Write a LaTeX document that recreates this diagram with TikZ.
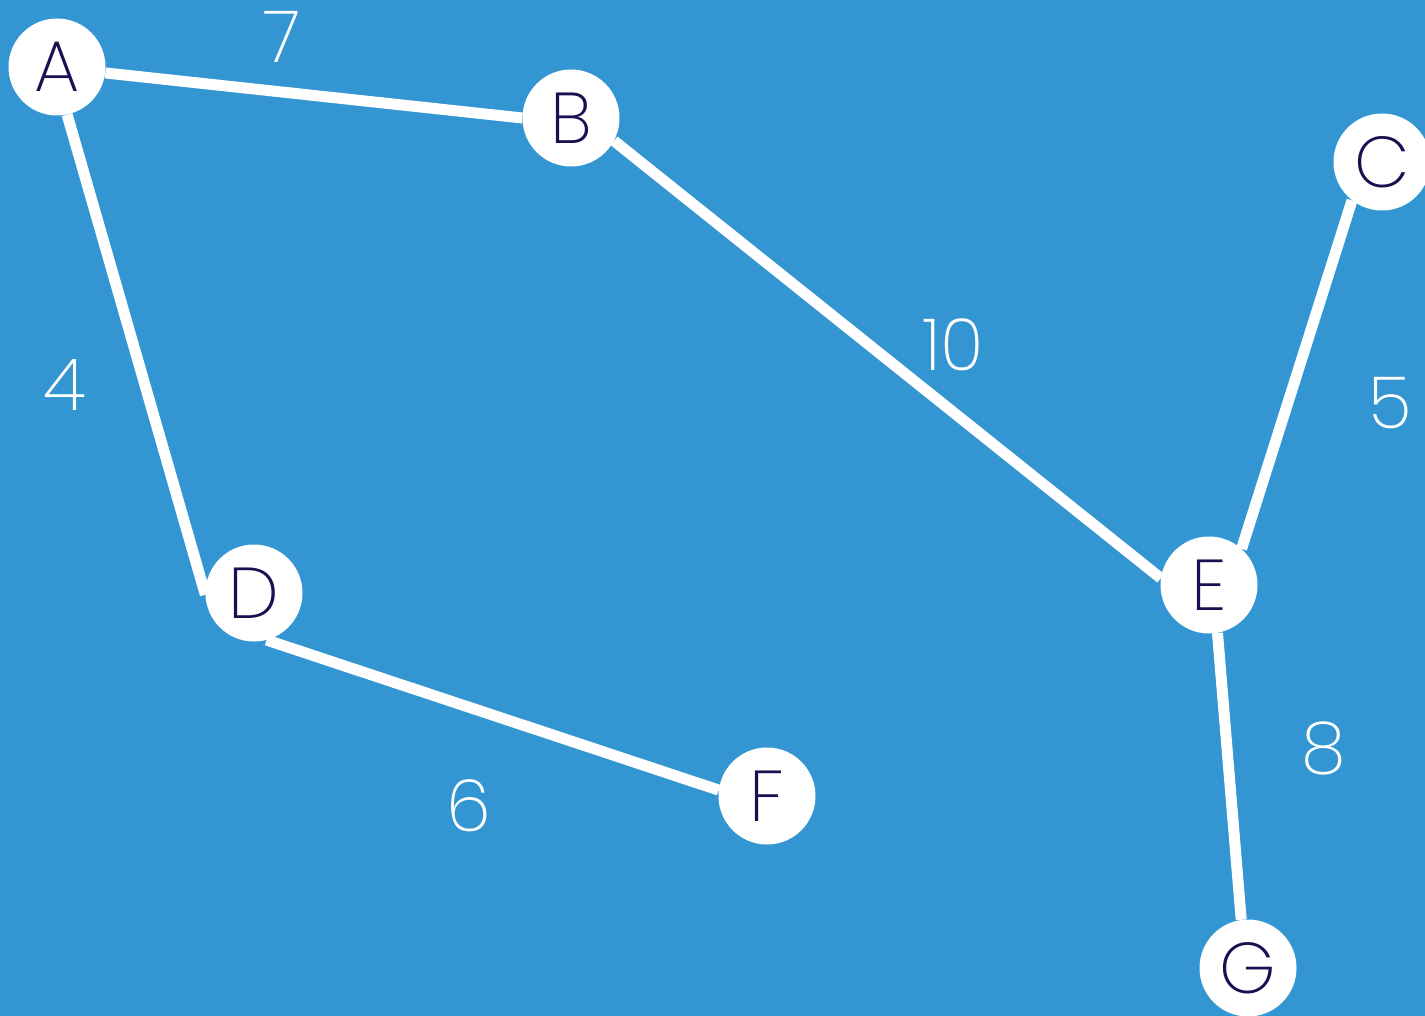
\documentclass[tikz,border=0pt]{standalone}
\usepackage{fontspec}
\setmainfont{Poppins ExtraLight}
\definecolor{bg}{RGB}{51,150,211}
\definecolor{ink}{RGB}{22,18,82}
\begin{document}
\begin{tikzpicture}[x=1pt,y=-1pt,
  vert/.style={circle,fill=white,minimum size=97pt,inner sep=0pt,text=ink,font=\fontsize{72}{72}\selectfont},
  wt/.style={text=white,inner sep=0pt,font=\fontsize{72}{72}\selectfont},
  edge/.style={draw=white,line width=11pt}]
\fill[bg] (0,0) rectangle (1425,1016);
\useasboundingbox (0,0) rectangle (1425,1016);
\node[vert] (A) at (57,67) {A};
\node[vert] (B) at (571,118) {B};
\node[vert] (C) at (1382,162) {C};
\node[vert] (D) at (254,593) {D};
\node[vert] (E) at (1209,585) {E};
\node[vert] (F) at (767,796) {F};
\node[vert] (G) at (1248,968) {G};
\path[edge] (A.-7) -- (B.180);
\path[edge] (A.-78) -- (D.182);
\path[edge] (B.-28) -- (E.172);
\path[edge] (C.232) -- (E.48);
\path[edge] (D.-75) -- (F.173);
\path[edge] (E.-80) -- (G.98);
\node[wt] (w7) at (282,37) {7};
\node[wt] (w4) at (65,385) {4};
\node[wt] (w10) at (953,345) {10};
\node[wt] (w5) at (1390,403) {5};
\node[wt] (w6) at (469,806) {6};
\node[wt] (w8) at (1324,748) {8};
\end{tikzpicture}
\end{document}
